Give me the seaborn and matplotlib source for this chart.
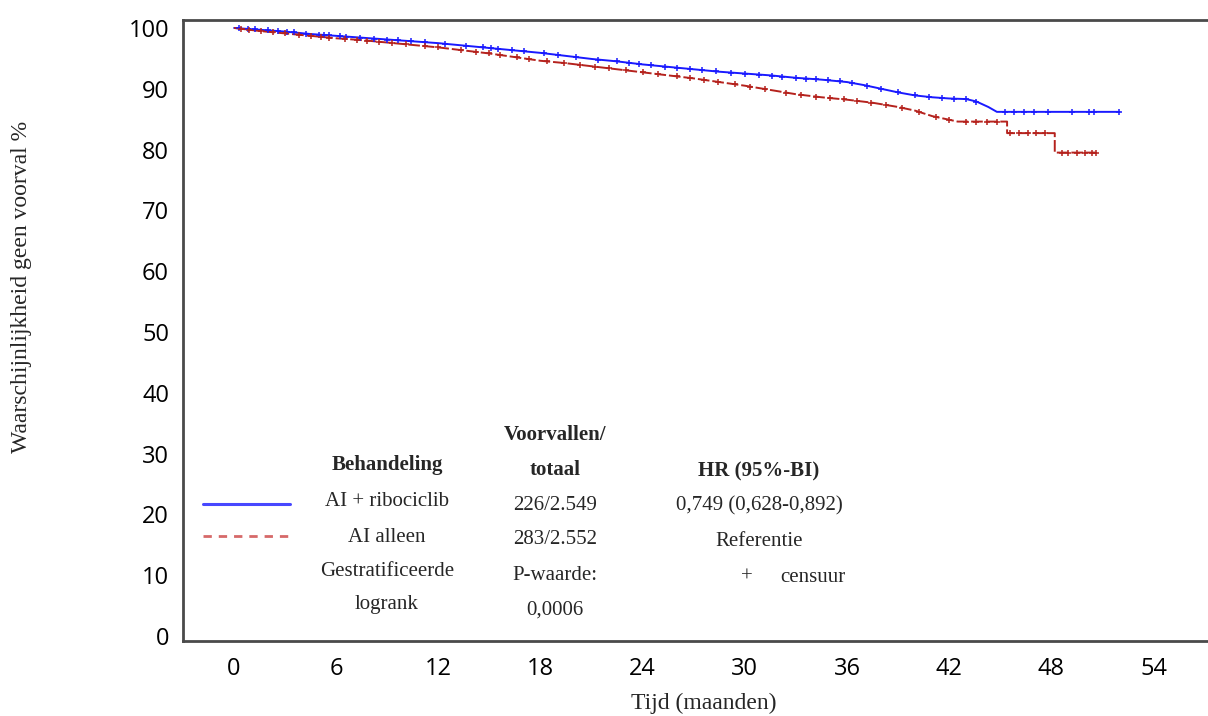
import numpy as np
import pandas as pd
import matplotlib
matplotlib.use("Agg")
import matplotlib.pyplot as plt
import seaborn as sns

# ---------------- data ----------------
groups = ["AI + ribociclib", "AI alleen"]

blue_t = [0, 1.5, 3, 4.5, 6, 7.5, 9, 10.5, 12, 13.5, 15, 16.5, 18, 19.5, 21, 22.5, 24,
          25.5, 27, 28.5, 30, 31.5, 33, 34.5, 36, 37, 38, 39, 40, 41, 42, 43, 43.6, 44.3, 44.8, 52.0]
blue_s = [100, 99.7, 99.4, 99.0, 98.7, 98.4, 98.1, 97.8, 97.5, 97.1, 96.7, 96.3, 95.9, 95.4, 94.9,
          94.5, 94.0, 93.6, 93.2, 92.8, 92.5, 92.2, 91.8, 91.5, 91.1, 90.6, 90.0, 89.4, 88.9, 88.6,
          88.4, 88.3, 87.9, 87.0, 86.2, 86.2]

red_t = [0, 1.5, 3, 4.5, 6, 7.5, 9, 10.5, 12, 13.5, 15, 16.5, 18, 19.5, 21, 22.5, 24, 25.5,
         27, 28.5, 30, 31.5, 33, 34.5, 36, 37.5, 39, 40, 41, 42.5, 45.4, 45.4, 48.2, 48.2, 50.6]
red_s = [100, 99.5, 99.1, 98.7, 98.3, 98.0, 97.6, 97.2, 96.8, 96.3, 95.8, 95.2, 94.6, 94.2,
         93.7, 93.2, 92.7, 92.2, 91.7, 91.1, 90.5, 89.8, 89.1, 88.6, 88.2, 87.7, 87.0, 86.4,
         85.5, 84.6, 84.6, 82.7, 82.7, 79.5, 79.5]

blue_cens = [0.3, 0.8, 1.2, 2.0, 2.6, 3.1, 3.5, 4.2, 5.0, 5.3, 5.6, 6.2, 6.6, 7.4, 8.2, 9.0,
             9.6, 10.4, 11.2, 12.4, 13.6, 14.6, 15.1, 15.5, 16.3, 17.0, 18.2, 19.0, 20.1, 21.4,
             22.5, 23.2, 23.8, 24.5, 25.3, 26.0, 26.8, 27.5, 28.3, 29.2, 30.0, 30.8, 31.6, 32.2,
             33.0, 33.6, 34.2, 34.9, 35.6, 36.3, 37.2, 38.0, 39.0, 40.0, 40.8, 41.6, 42.3, 43.0,
             43.6, 45.3, 45.8, 46.4, 47.0, 47.8, 49.2, 50.2, 50.5, 52.0]
red_cens = [0.4, 0.9, 1.6, 2.3, 3.0, 3.8, 4.5, 5.1, 5.6, 6.5, 7.2, 7.8, 8.5, 9.3, 10.1, 11.2,
            12.0, 13.3, 14.2, 15.0, 15.6, 16.6, 17.3, 18.4, 19.4, 20.3, 21.2, 22.0, 23.0, 24.0,
            24.9, 26.0, 26.8, 27.6, 28.4, 29.4, 30.3, 31.2, 32.4, 33.3, 34.2, 35.0, 35.8, 36.6,
            37.4, 38.3, 39.2, 40.2, 41.2, 42.0, 43.0, 43.6, 44.2, 44.8, 45.6, 46.1, 46.6, 47.1,
            47.6, 48.6, 49.0, 49.5, 50.0, 50.4, 50.6]

x_ticks = [0, 6, 12, 18, 24, 30, 36, 42, 48, 54]
y_ticks = [0, 10, 20, 30, 40, 50, 60, 70, 80, 90, 100]

events_total = ["226/2.549", "283/2.552"]
hr_text = ["0,749 (0,628-0,892)", "Referentie"]
p_label = "P-waarde:"
p_value = "0,0006"

# ---------------- styling ----------------
BLUE = "#1a1aff"
RED = "#b5221d"
SERIF = ["Liberation Serif", "DejaVu Serif"]
SANS = ["Open Sans", "DejaVu Sans"]

sns.set_style("white")
plt.rcParams["font.family"] = SANS

fig = plt.figure(figsize=(12.08, 7.16), dpi=100)
ax = fig.add_axes([0.1515, 0.105, 0.8485, 0.867])

df_b = pd.DataFrame({"t": blue_t, "s": blue_s})
df_r = pd.DataFrame({"t": red_t, "s": red_s})

sns.lineplot(data=df_b, x="t", y="s", ax=ax, color=BLUE, lw=1.4,
             estimator=None, sort=False)
sns.lineplot(data=df_r, x="t", y="s", ax=ax, color=RED, lw=1.4,
             estimator=None, sort=False)
ax.lines[-1].set_linestyle((0, (6, 1.5)))


def curve_lookup(times, surv, q):
    # value of the drawn curve at the censor times
    t = np.asarray(times, float)
    s = np.asarray(surv, float)
    q = np.asarray(q, float)
    out = np.empty_like(q)
    for i, v in enumerate(q):
        j = np.searchsorted(t, v, side="right") - 1
        j = min(max(j, 0), len(t) - 1)
        if j + 1 < len(t) and t[j + 1] > t[j]:
            f = (v - t[j]) / (t[j + 1] - t[j])
            out[i] = s[j] + f * (s[j + 1] - s[j])
        else:
            out[i] = s[j]
    return out


cb = pd.DataFrame({"t": blue_cens, "s": curve_lookup(blue_t, blue_s, blue_cens)})
cr = pd.DataFrame({"t": red_cens, "s": curve_lookup(red_t, red_s, red_cens)})
sns.scatterplot(data=cb, x="t", y="s", ax=ax, marker="+", color=BLUE, s=16,
                linewidth=1.1, zorder=3)
sns.scatterplot(data=cr, x="t", y="s", ax=ax, marker="+", color=RED, s=16,
                linewidth=1.1, zorder=3)

ax.set_xlim(-3, 57.2)
ax.set_ylim(-0.8, 101.3)
ax.set_xticks(x_ticks)
ax.set_yticks(y_ticks)
ax.tick_params(axis="both", direction="out", length=7, width=1.3, color="#666666",
               labelsize=17, labelcolor="black", pad=3)
ax.tick_params(axis="x", pad=5)
for lab in ax.get_xticklabels() + ax.get_yticklabels():
    lab.set_family(SANS)
for side in ["left", "bottom", "top"]:
    ax.spines[side].set_color("#4a4a4a")
    ax.spines[side].set_linewidth(2)
ax.spines["right"].set_visible(False)

ax.set_xlabel("")
ax.set_ylabel("")


def fx(px):
    return px / 1208


def fy(py):
    return 1 - py / 716


fig.text(fx(704), fy(703), "Tijd (maanden)", family=SERIF, fontsize=17,
         ha="center", va="center")
fig.text(fx(22), fy(287), "Waarschijnlijkheid geen voorval %", family=SERIF, fontsize=17,
         rotation=90, ha="center", va="center")

# ---------------- in-plot table / legend ----------------
tkw = dict(family=SERIF, fontsize=15, ha="center", va="center")
c1, c2, c3 = 387, 555, 759
fig.text(fx(c1), fy(465), "Behandeling", weight="bold", **tkw)
fig.text(fx(c2), fy(435), "Voorvallen/", weight="bold", **tkw)
fig.text(fx(c2), fy(470), "totaal", weight="bold", **tkw)
fig.text(fx(c3), fy(471), "HR (95%-BI)", weight="bold", **tkw)

fig.text(fx(c1), fy(501), groups[0], **tkw)
fig.text(fx(c1), fy(537), groups[1], **tkw)
fig.text(fx(c1), fy(571), "Gestratificeerde", **tkw)
fig.text(fx(c1), fy(604), "logrank", **tkw)

fig.text(fx(c2), fy(505), events_total[0], **tkw)
fig.text(fx(c2), fy(540), events_total[1], **tkw)
fig.text(fx(c2), fy(576), p_label, **tkw)
fig.text(fx(c2), fy(610), p_value, **tkw)

fig.text(fx(c3), fy(506), hr_text[0], **tkw)
fig.text(fx(c3), fy(542), hr_text[1], **tkw)
fig.text(fx(747), fy(577), "+", **tkw)
fig.text(fx(813), fy(577), "censuur", **tkw)

fig.add_artist(plt.Line2D([fx(203), fx(290)], [fy(504), fy(504)], color=BLUE, lw=2.2,
                          alpha=0.8))
fig.add_artist(plt.Line2D([fx(203), fx(290)], [fy(536), fy(536)], color="#cc4444", lw=2,
                          ls=(0, (3, 2.5)), alpha=0.8))

fig.savefig("out.png", dpi=100)
